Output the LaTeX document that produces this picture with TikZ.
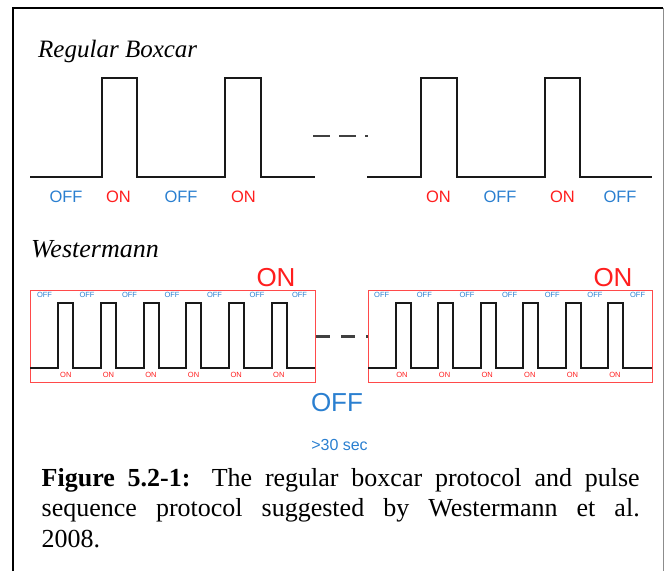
\documentclass[tikz,border=0pt]{standalone}
\usepackage{fontspec}
\setmainfont{Liberation Serif}
\setsansfont{Liberation Sans}
\definecolor{offblue}{HTML}{2A7FD0}
\definecolor{onred}{HTML}{FF1E1E}
\definecolor{boxred}{HTML}{FF4A4A}
\tikzset{
  wave/.style={line width=2pt, black!90, line join=miter},
  dashline/.style={line width=2.5pt, black!75, dash pattern=on 16.5pt off 9.5pt},
  middash/.style={line width=2.5pt, black!75, dash pattern=on 14pt off 11pt},
  redbox/.style={draw=boxred, line width=1pt, inner sep=0pt, anchor=north west},
  biglabel/.style={font=\sffamily\fontsize{26pt}{26pt}\selectfont, inner sep=0pt, anchor=base},
  midlabel/.style={font=\sffamily\fontsize{16.5pt}{16.5pt}\selectfont, inner sep=0pt, anchor=base},
  seclabel/.style={font=\sffamily\fontsize{16pt}{16pt}\selectfont, inner sep=0pt, anchor=base},
  tinylabel/.style={font=\sffamily\fontsize{7.5pt}{7.5pt}\selectfont, inner sep=0pt, anchor=base},
  title/.style={font=\itshape\fontsize{25pt}{25pt}\selectfont, inner sep=0pt, anchor=base west},
  titleb/.style={font=\itshape\fontsize{26pt}{26pt}\selectfont, inner sep=0pt, anchor=base west},
  capline/.style={font=\fontsize{26pt}{30pt}\selectfont, inner sep=0pt, anchor=base west}
}
\begin{document}
\begin{tikzpicture}[x=1pt, y=-1pt]
\useasboundingbox (0,0) rectangle (664,571);
% outer frame
\draw[line width=1.8pt, black] (13,571) -- (13,8) -- (663,8);
\draw[line width=1pt, black!45] (663,8) -- (663,571);

% ---- Regular Boxcar ----
\node[title] (t1) at (38,57) {Regular Boxcar};
\draw[wave] (30,177) -- (102,177) -- (102,78) -- (137,78) -- (137,177) -- (225,177) -- (225,78) -- (261,78) -- (261,177) -- (315,177);
\draw[wave] (367,177) -- (421,177) -- (421,78) -- (457,78) -- (457,177) -- (545,177) -- (545,78) -- (580,78) -- (580,177) -- (652,177);
\coordinate (d1) at (313,136);
\coordinate (d2) at (368,136);
\draw[dashline] (d1) -- (d2);
\node[midlabel, text=offblue] (b1) at (66,202.5) {OFF};
\node[midlabel, text=onred]   (b2) at (118.5,202.5) {ON};
\node[midlabel, text=offblue] (b3) at (181,202.5) {OFF};
\node[midlabel, text=onred]   (b4) at (243.5,202.5) {ON};
\node[midlabel, text=onred]   (b5) at (438.5,202.5) {ON};
\node[midlabel, text=offblue] (b6) at (500,202.5) {OFF};
\node[midlabel, text=onred]   (b7) at (562.5,202.5) {ON};
\node[midlabel, text=offblue] (b8) at (620,202.5) {OFF};

% ---- Westermann ----
\node[titleb] (t2) at (31,257.3) {Westermann};
\node[redbox, minimum width=285pt, minimum height=92pt] (wbox1) at (30,290) {};
\node[redbox, minimum width=284pt, minimum height=92pt] (wbox2) at (368,290) {};
\draw[wave] (30,368) foreach \k in {0,...,5} { -- ({58+\k*42.8},368) -- ++(0,-65) -- ++(15,0) -- ++(0,65) } -- (315,368);
\draw[wave] (368,368) foreach \k in {0,...,5} { -- ({396+\k*42.4},368) -- ++(0,-65) -- ++(15,0) -- ++(0,65) } -- (652,368);
\foreach \k in {0,...,6} \node[tinylabel, text=offblue] (offA\k) at ({44.5+\k*42.5},297.7) {OFF};
\foreach \k in {0,...,5} \node[tinylabel, text=onred] (onA\k) at ({65.8+\k*42.6},377.7) {ON};
\foreach \k in {0,...,6} \node[tinylabel, text=offblue] (offB\k) at ({381.7+\k*42.65},297.7) {OFF};
\foreach \k in {0,...,5} \node[tinylabel, text=onred] (onB\k) at ({402+\k*42.6},377.7) {ON};
\draw[middash] (wbox1.east) -- (wbox2.west);
\node[biglabel, text=onred] (bigon1) at (276,286.5) {ON};
\node[biglabel, text=onred] (bigon2) at (613,286.5) {ON};
\node[biglabel, text=offblue] (bigoff) at (337,411.5) {OFF};
\node[seclabel, text=offblue] (secs) at (339.5,450.7) {>30 sec};

% ---- caption ----
\node[capline] (c1) at (41.5,486) {\makebox[598pt][s]{\textbf{Figure 5.2-1:} The regular boxcar protocol and pulse}};
\node[capline] (c2) at (41.5,516.5) {\makebox[598pt][s]{sequence protocol suggested by Westermann et al.}};
\node[capline] (c3) at (41.5,547) {2008.};
\end{tikzpicture}
\end{document}
